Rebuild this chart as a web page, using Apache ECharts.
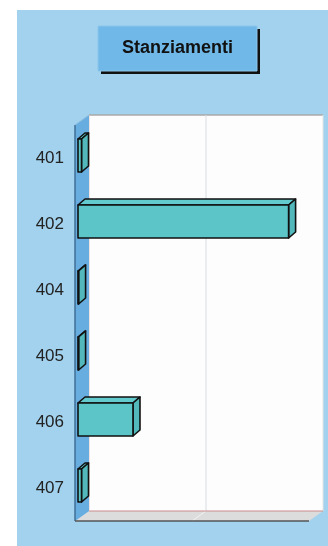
<!DOCTYPE html>
<html>
<head>
<meta charset="utf-8">
<script src="https://cdn.jsdelivr.net/npm/echarts@6/dist/echarts.min.js"></script>
<style>html,body{margin:0;padding:0;background:#fff}#c{width:328px;height:546px}</style>
</head>
<body>
<div id="c"></div>
<script>
const categories = ['401', '402', '404', '405', '406', '407'];
const stanziamenti = [3, 180, 0.5, 0.5, 47, 3];
const gridTicks = [100];
const titleText = 'Stanziamenti';

const DX = 14, DY = 10;      // depth of the back wall
const BX = 3, BY = 2.5;      // bar front face offset
const BDX = 7, BDY = 6;      // bar depth

const chart = echarts.init(document.getElementById('c'), null, {renderer: 'canvas'});

const frameSeries = {
  type: 'custom',
  silent: true,
  clip: false,
  z: 1,
  data: [[0, 0]],
  renderItem: function (params, api) {
    const cs = params.coordSys;
    const x = cs.x, y = cs.y, w = cs.width, h = cs.height;
    const children = [];
    children.push({type: 'rect', shape: {x: x + DX, y: y - DY, width: w, height: h},
      style: {fill: '#fdfdfd', stroke: null}});
    children.push({type: 'line', shape: {x1: x + DX, y1: y - DY, x2: x + w + DX, y2: y - DY},
      style: {stroke: '#a8a8a8', lineWidth: 1.5}});
    children.push({type: 'line', shape: {x1: x + w + DX, y1: y - DY, x2: x + w + DX, y2: y + h - DY},
      style: {stroke: '#e6e6e6', lineWidth: 1}});
    gridTicks.forEach(function (t) {
      const gx = api.coord([t, 0])[0];
      children.push({type: 'line', shape: {x1: gx + DX, y1: y - DY, x2: gx + DX, y2: y + h - DY},
        style: {stroke: '#d8dde2', lineWidth: 1}});
    });
    children.push({type: 'polygon', shape: {points: [[x, y + h], [x + DX, y + h - DY], [x + w + DX, y + h - DY], [x + w, y + h]]},
      style: {fill: '#dcdcdc', stroke: null}});
    gridTicks.forEach(function (t) {
      const gx = api.coord([t, 0])[0];
      children.push({type: 'line', shape: {x1: gx + DX, y1: y + h - DY, x2: gx, y2: y + h},
        style: {stroke: '#f2f2f2', lineWidth: 1}});
    });
    children.push({type: 'line', shape: {x1: x + DX, y1: y + h - DY, x2: x + w + DX, y2: y + h - DY},
      style: {stroke: '#c98a8a', lineWidth: 1}});
    children.push({type: 'line', shape: {x1: x + DX, y1: y - DY, x2: x + DX, y2: y + h - DY},
      style: {stroke: '#e8c8c8', lineWidth: 1}});
    children.push({type: 'polygon', shape: {points: [[x, y], [x + DX, y - DY], [x + DX, y + h - DY], [x, y + h]]},
      style: {fill: '#68addf', stroke: null}});
    children.push({type: 'line', shape: {x1: x, y1: y, x2: x, y2: y + h},
      style: {stroke: '#3f6f96', lineWidth: 1.5}});
    children.push({type: 'line', shape: {x1: x, y1: y, x2: x + DX, y2: y - DY},
      style: {stroke: '#8fbfe0', lineWidth: 1}});
    children.push({type: 'line', shape: {x1: x, y1: y + h, x2: x + w, y2: y + h},
      style: {stroke: '#555', lineWidth: 1.5}});
    return {type: 'group', children: children};
  }
};

const barSeries = {
  type: 'custom',
  name: titleText,
  z: 5,
  clip: false,
  encode: {x: 0, y: 1},
  data: stanziamenti.map(function (v, i) { return [v, i]; }),
  renderItem: function (params, api) {
    const cat = api.value(1);
    const p0 = api.coord([0, cat]);
    const p1 = api.coord([api.value(0), cat]);
    const band = api.size([0, 1])[1];
    const bh = band * 0.5;
    const x0 = p0[0] + BX, x1 = p1[0] + BX;
    const top = p0[1] - BY - bh / 2;
    const bot = top + bh;
    const st = {stroke: '#111', lineWidth: 1.6, lineJoin: 'round'};
    return {type: 'group', children: [
      {type: 'polygon', shape: {points: [[x0, top], [x0 + BDX, top - BDY], [x1 + BDX, top - BDY], [x1, top]]},
        style: Object.assign({fill: '#63cbce'}, st)},
      {type: 'polygon', shape: {points: [[x1, top], [x1 + BDX, top - BDY], [x1 + BDX, bot - BDY], [x1, bot]]},
        style: Object.assign({fill: '#52b8bb'}, st)},
      {type: 'rect', shape: {x: x0, y: top, width: Math.max(x1 - x0, 0), height: bh},
        style: Object.assign({fill: '#5bc5c8'}, st)}
    ]};
  }
};

chart.setOption({
  animation: false,
  backgroundColor: '#ffffff',
  graphic: [
    {type: 'rect', z: -10, shape: {x: 17, y: 10, width: 311, height: 536}, style: {fill: '#a2d2ee'}},
    {type: 'rect', z: 10, shape: {x: 101, y: 29, width: 159, height: 45}, style: {fill: '#111'}},
    {type: 'rect', z: 11, shape: {x: 98, y: 26, width: 159, height: 45}, style: {fill: '#6fb8e8', stroke: '#8ec6ea', lineWidth: 1}},
    {type: 'text', z: 12, x: 177.5, y: 48.5, style: {text: titleText, fill: '#111', font: 'bold 18px "Liberation Sans", Arial, sans-serif', align: 'center', verticalAlign: 'middle'}}
  ],
  grid: {left: 75, right: 19, top: 125, bottom: 25, containLabel: false},
  xAxis: {
    type: 'value', min: 0, max: 200, interval: 100,
    axisLabel: {show: false}, axisLine: {show: false}, axisTick: {show: false}, splitLine: {show: false}
  },
  yAxis: {
    type: 'category', data: categories, inverse: true,
    axisLine: {show: false}, axisTick: {show: false}, splitLine: {show: false},
    axisLabel: {margin: 11, color: '#222', fontSize: 17, fontFamily: '"Liberation Sans", Arial, sans-serif'}
  },
  series: [frameSeries, barSeries]
});
</script>
</body>
</html>
